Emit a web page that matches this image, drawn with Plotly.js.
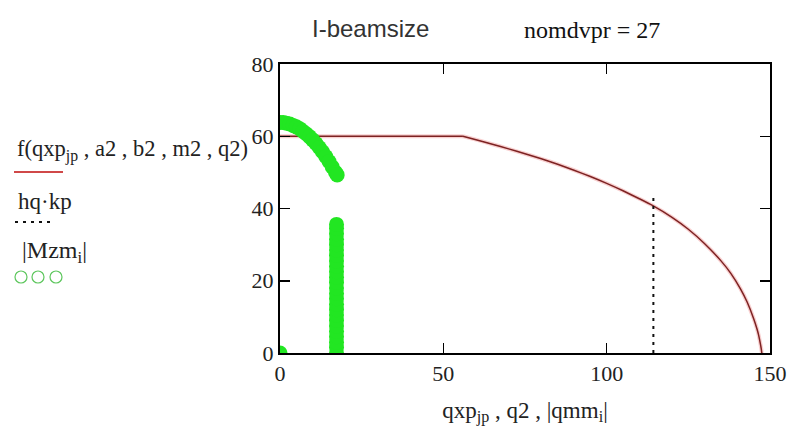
<!DOCTYPE html>
<html>
<head>
<meta charset="utf-8">
<script src="https://cdn.plot.ly/plotly-3.0.1.min.js"></script>
<style>html,body{margin:0;padding:0;background:#fff;}#chart{width:794px;height:429px;}</style>
</head>
<body>
<div id="chart"></div>
<script>
// f(qxp_jp, a2, b2, m2, q2) versus qxp_jp
var qxpJp = [0, 2, 55, 56, 60, 65, 70, 75, 80, 85, 90, 95, 100, 105, 110, 114, 120, 125, 130, 135, 138, 141, 143, 145, 146, 146.5, 147, 147.3, 147.5];
var fVals = [60, 60, 60, 60, 59.05, 57.8, 56.5, 55.15, 53.75, 52.25, 50.6, 48.85, 46.95, 44.9, 42.7, 40.85, 37.55, 34.25, 30.25, 25.5, 22.05, 17.7, 14.1, 9.5, 6.7, 5.0, 2.8, 1.3, 0];
var kinkIndex = 3; // flat part ends at qxp = 56

// hq*kp versus q2
var q2Vals = [114.3, 114.3];
var hqKp = [0, 43.9];

// |Mzm_i| versus |qmm_i|
var qmmAbs = [0, 0, 1, 2, 3, 4, 5, 6, 7, 8, 9, 10, 11, 12, 13, 14, 15, 16, 17, 17.5,
              17.3, 17.3, 17.3, 17.3, 17.3, 17.3, 17.3, 17.3, 17.3, 17.3, 17.3, 17.3, 17.3, 17.3, 17.3, 17.3, 17.3, 17.3, 17.3, 17.3, 17.3, 17.3, 17.3, 17.3, 17.3];
var mzmAbs = [0, 63.8, 63.8, 63.6, 63.4, 63.0, 62.6, 62.1, 61.4, 60.7, 59.9, 59.0, 58.0, 56.9, 55.7, 54.4, 53.0, 51.5, 50.0, 49.3,
              0, 1.5, 3, 4.5, 6, 7.5, 9, 10.5, 12, 13.5, 15, 16.5, 18, 19.5, 21, 22.5, 24, 25.5, 27, 28.5, 30, 31.5, 33, 34.5, 35.6];

var xTicks = [0, 50, 100, 150];
var yTicks = [0, 20, 40, 60, 80];

var flatX = qxpJp.slice(0, kinkIndex + 1), flatY = fVals.slice(0, kinkIndex + 1);
var curveX = qxpJp.slice(kinkIndex), curveY = fVals.slice(kinkIndex);
var halo = {color: 'rgba(240,150,150,0.45)', width: 4};
var core = {color: '#7d2222', width: 1.5};

var traces = [
  {x: flatX, y: flatY, mode: 'lines', line: halo},
  {x: curveX, y: curveY, mode: 'lines', line: Object.assign({shape: 'spline', smoothing: 0.6}, halo)},
  {x: flatX, y: flatY, mode: 'lines', line: core},
  {x: curveX, y: curveY, mode: 'lines', line: Object.assign({shape: 'spline', smoothing: 0.6}, core)},
  {x: q2Vals, y: hqKp, mode: 'lines', line: {color: '#111', width: 2, dash: '3px,5px'}},
  {x: qmmAbs, y: mzmAbs, mode: 'markers', marker: {color: '#22e622', size: 15, line: {width: 0}}}
];

var serif = 'Liberation Serif, Times New Roman, serif';
function px(v){ return (v - 280) / 490; }
function py(v){ return (353 - v) / 289; }

var axisCommon = {
  ticks: 'inside', ticklen: 10, tickwidth: 1.5, tickcolor: '#000',
  showline: true, linewidth: 2, linecolor: '#000', mirror: 'ticks',
  showgrid: false, zeroline: false,
  tickfont: {family: serif, size: 22, color: '#222'}
};

function circ(cx){
  return {type: 'circle', xref: 'paper', yref: 'paper', xsizemode: 'pixel', ysizemode: 'pixel',
          xanchor: px(cx), yanchor: py(277), x0: -6, x1: 6, y0: -6, y1: 6, line: {color: '#5cc65c', width: 1.2}};
}

var layout = {
  width: 794, height: 429,
  margin: {l: 280, r: 24, t: 64, b: 76},
  paper_bgcolor: '#fff', plot_bgcolor: '#fff',
  showlegend: false,
  xaxis: Object.assign({}, axisCommon, {
    range: [0, 150], tickvals: xTicks, ticktext: xTicks.map(String),
    title: {text: 'qxp<sub>jp</sub> , q2 , |qmm<sub>i</sub>|', font: {family: serif, size: 23, color: '#222'}, standoff: 16}
  }),
  yaxis: Object.assign({}, axisCommon, {
    range: [0, 80], tickvals: yTicks, ticktext: yTicks.map(String)
  }),
  annotations: [
    {xref: 'paper', yref: 'paper', x: px(370), y: py(28), text: 'I-beamsize', showarrow: false, xanchor: 'center', yanchor: 'middle',
     font: {family: 'Liberation Sans, Arial, sans-serif', size: 24, color: '#333'}},
    {xref: 'paper', yref: 'paper', x: px(592), y: py(30), text: 'nomdvpr\u00A0=\u00A027', showarrow: false, xanchor: 'center', yanchor: 'middle',
     font: {family: serif, size: 24, color: '#111'}},
    {xref: 'paper', yref: 'paper', x: px(15), y: py(150), text: 'f(qxp<sub>jp</sub> , a2 , b2 , m2 , q2)', showarrow: false, xanchor: 'left', yanchor: 'middle',
     font: {family: serif, size: 22.5, color: '#222'}},
    {xref: 'paper', yref: 'paper', x: px(16), y: py(201), text: 'hq·kp', showarrow: false, xanchor: 'left', yanchor: 'middle',
     font: {family: serif, size: 23, color: '#222'}},
    {xref: 'paper', yref: 'paper', x: px(20), y: py(252), text: '|Mzm<sub>i</sub>|', showarrow: false, xanchor: 'left', yanchor: 'middle',
     font: {family: serif, size: 24, color: '#222'}}
  ],
  shapes: [
    {type: 'line', xref: 'paper', yref: 'paper', x0: px(14), x1: px(63), y0: py(172), y1: py(172), line: {color: '#d04848', width: 2}},
    {type: 'line', xref: 'paper', yref: 'paper', x0: px(15), x1: px(53), y0: py(222), y1: py(222), line: {color: '#111', width: 2, dash: '3px,5px'}},
    circ(21), circ(38), circ(56)
  ]
};

Plotly.newPlot('chart', traces, layout, {displayModeBar: false, staticPlot: true});
</script>
</body>
</html>
